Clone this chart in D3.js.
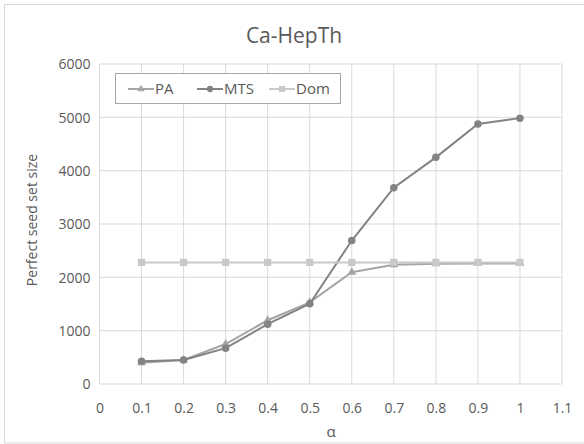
<!DOCTYPE html>
<html><head><meta charset="utf-8">
<script src="https://cdn.jsdelivr.net/npm/d3@7"></script>
<style>body{margin:0;background:#fff}text{font-family:"Open Sans",sans-serif}</style>
</head><body>
<script>
const alphas = [0.1,0.2,0.3,0.4,0.5,0.6,0.7,0.8,0.9,1.0];
const PA  = [400,450,750,1195,1530,2095,2235,2255,2260,2260];
const MTS = [425,450,672,1122,1505,2690,3680,4250,4875,4985];
const Dom = [2280,2280,2280,2280,2280,2280,2280,2280,2280,2280];
const xTicks = [0,0.1,0.2,0.3,0.4,0.5,0.6,0.7,0.8,0.9,1,1.1];
const yTicks = [0,1000,2000,3000,4000,5000,6000];
const series = [
  {name:"PA", values:PA, color:"#a5a5a5", marker:"triangle"},
  {name:"MTS", values:MTS, color:"#838383", marker:"circle"},
  {name:"Dom", values:Dom, color:"#c9c9c9", marker:"square"}
];
const W=584,H=444;
const svg=d3.select("body").append("svg").attr("width",W).attr("height",H);
svg.append("rect").attr("x",4.5).attr("y",4.5).attr("width",W).attr("height",438.5)
  .attr("fill","#fff").attr("stroke","#d9d9d9");
const L=99.5,R=562,T=64,B=384;
const x=d3.scaleLinear().domain([0,1.1]).range([L,R]);
const y=d3.scaleLinear().domain([0,6000]).range([B,T]);
const g=svg.append("g");
// grid
g.selectAll(".vg").data(xTicks).join("line").attr("x1",d=>x(d)).attr("x2",d=>x(d))
  .attr("y1",T).attr("y2",B).attr("stroke","#d9d9d9").attr("stroke-width",1);
g.selectAll(".hg").data(yTicks).join("line").attr("y1",d=>y(d)).attr("y2",d=>y(d))
  .attr("x1",L).attr("x2",R).attr("stroke","#d9d9d9").attr("stroke-width",1);
// axes labels
const xa=svg.append("g").attr("transform",`translate(0,${B+16})`)
  .call(d3.axisBottom(x).tickValues(xTicks).tickFormat(d=>d3.format("~g")(d)).tickSize(0));
xa.select(".domain").remove();
xa.selectAll("text").attr("font-size",14).attr("fill","#595959").attr("font-family","Open Sans");
const ya=svg.append("g").attr("transform",`translate(${L-6},0)`)
  .call(d3.axisLeft(y).tickValues(yTicks).tickFormat(d3.format("d")).tickSize(0));
ya.select(".domain").remove();
ya.selectAll("text").attr("font-size",14).attr("fill","#595959").attr("font-family","Open Sans").attr("dy","0.35em");
svg.append("text").attr("x",294).attr("y",43).attr("text-anchor","middle")
  .attr("font-size",21).attr("fill","#595959").text("Ca-HepTh");
svg.append("text").attr("x",331).attr("y",437).attr("text-anchor","middle")
  .attr("font-size",15).attr("fill","#595959").text("α");
svg.append("text").attr("transform","translate(37,220) rotate(-90)").attr("text-anchor","middle")
  .attr("font-size",14).attr("fill","#595959").text("Perfect seed set size");
// series
const line=d3.line().x((d,i)=>x(alphas[i])).y(d=>y(d));
const sym={triangle:d3.symbolTriangle,circle:d3.symbolCircle,square:d3.symbolSquare};
const size={triangle:34,circle:44,square:52};
series.forEach(s=>{
  g.append("path").datum(s.values).attr("d",line).attr("fill","none")
    .attr("stroke",s.color).attr("stroke-width",2);
  g.selectAll(null).data(s.values).join("path")
    .attr("transform",(d,i)=>`translate(${x(alphas[i])},${y(d)})`)
    .attr("d",d3.symbol().type(sym[s.marker]).size(size[s.marker])).attr("fill",s.color);
});
// legend
const lg=svg.append("g");
lg.append("rect").attr("x",115.5).attr("y",73.5).attr("width",225).attr("height",30)
  .attr("fill","#fff").attr("stroke","#a6a6a6");
const lx=[128,197,269];
series.forEach((s,i)=>{
  lg.append("line").attr("x1",lx[i]).attr("x2",lx[i]+26).attr("y1",89).attr("y2",89)
    .attr("stroke",s.color).attr("stroke-width",2);
  lg.append("path").attr("transform",`translate(${lx[i]+13},89)`)
    .attr("d",d3.symbol().type(sym[s.marker]).size(size[s.marker]*0.7)).attr("fill",s.color);
  lg.append("text").attr("x",lx[i]+27).attr("y",89).attr("dy","0.35em")
    .attr("font-size",15).attr("fill","#595959").text(s.name);
});
</script>
</body></html>
